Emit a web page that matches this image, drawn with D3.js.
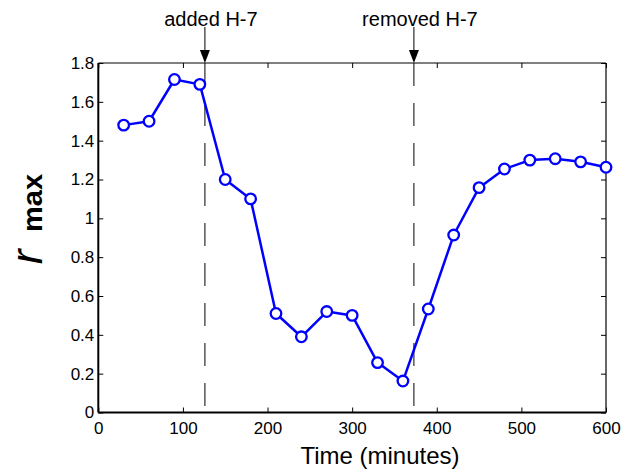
<!DOCTYPE html>
<html>
<head>
<meta charset="utf-8">
<script src="https://cdn.jsdelivr.net/npm/d3@7"></script>
<style>
  html, body { margin: 0; padding: 0; background: #fff; }
  svg { display: block; }
  text { font-family: "Liberation Sans", Arial, Helvetica, sans-serif; fill: #000; }
</style>
</head>
<body>
<svg id="chart" width="634" height="472"></svg>
<script>
// ---- data ----
const times = [30, 60, 90, 120, 150, 180, 210, 240, 270, 300, 330, 360, 390, 420, 450, 480, 510, 540, 570, 600];
const rmax  = [1.48, 1.50, 1.715, 1.69, 1.20, 1.10, 0.51, 0.39, 0.52, 0.50, 0.257, 0.162, 0.533, 0.914, 1.158, 1.254, 1.30, 1.307, 1.291, 1.263];
const eventTimes  = [126, 373];
const eventLabels = ["added H-7", "removed H-7"];
const xTicks = [0, 100, 200, 300, 400, 500, 600];
const yTicks = [0, 0.2, 0.4, 0.6, 0.8, 1, 1.2, 1.4, 1.6, 1.8];
const xLabel = "Time (minutes)";
const yLabelMain = "r";
const yLabelSub = "max";

// ---- layout ----
const M = { left: 98.3, right: 606, top: 63, bottom: 412.5 };

const svg = d3.select("#chart");
const x = d3.scaleLinear().domain([0, 600]).range([M.left, M.right]);
const y = d3.scaleLinear().domain([0, 1.8]).range([M.bottom, M.top]);

const fmt = d => (d === 0 ? "0" : String(+d.toFixed(1)));

const xAxis = svg.append("g").attr("transform", `translate(0,${M.bottom})`)
  .call(d3.axisBottom(x).tickValues(xTicks).tickSize(-5).tickPadding(9).tickFormat(fmt));
const yAxis = svg.append("g").attr("transform", `translate(${M.left},0)`)
  .call(d3.axisLeft(y).tickValues(yTicks).tickSize(-5).tickPadding(4).tickFormat(fmt));
const xAxisTop = svg.append("g").attr("transform", `translate(0,${M.top})`)
  .call(d3.axisTop(x).tickValues(xTicks).tickSize(-5).tickFormat(""));
const yAxisRight = svg.append("g").attr("transform", `translate(${M.right},0)`)
  .call(d3.axisRight(y).tickValues(yTicks).tickSize(-5).tickFormat(""));

[xAxis, yAxis, xAxisTop, yAxisRight].forEach(g => {
  g.select(".domain").remove();
  g.selectAll(".tick line").attr("stroke", "#000").attr("stroke-width", 1);
  g.selectAll(".tick text").attr("font-size", 17).attr("fill", "#000")
    .attr("font-family", "'Liberation Sans', Arial, sans-serif");
});

// frame
svg.append("line").attr("x1", M.left).attr("x2", M.right).attr("y1", M.top).attr("y2", M.top)
  .attr("stroke", "#000").attr("stroke-width", 1);
svg.append("line").attr("x1", M.right).attr("x2", M.right).attr("y1", M.top).attr("y2", M.bottom)
  .attr("stroke", "#000").attr("stroke-width", 1.2);
svg.append("line").attr("x1", M.left).attr("x2", M.right).attr("y1", M.bottom).attr("y2", M.bottom)
  .attr("stroke", "#000").attr("stroke-width", 2);
svg.append("line").attr("x1", M.left).attr("x2", M.left).attr("y1", M.top).attr("y2", M.bottom)
  .attr("stroke", "#000").attr("stroke-width", 2);

// event markers: dashed vertical lines + arrows with labels
const ev = eventTimes.map((t, i) => ({ t, label: eventLabels[i] }));
svg.selectAll("line.evdash").data(ev).enter().append("line")
  .attr("class", "evdash")
  .attr("x1", d => x(d.t)).attr("x2", d => x(d.t))
  .attr("y1", M.top).attr("y2", M.bottom - 3)
  .attr("stroke", "#000").attr("stroke-width", 1)
  .attr("stroke-dasharray", "23,17");
svg.selectAll("line.evarrow").data(ev).enter().append("line")
  .attr("class", "evarrow")
  .attr("x1", d => x(d.t)).attr("x2", d => x(d.t))
  .attr("y1", 27).attr("y2", M.top - 10)
  .attr("stroke", "#000").attr("stroke-width", 1);
svg.selectAll("path.evhead").data(ev).enter().append("path")
  .attr("class", "evhead")
  .attr("d", d => `M${x(d.t) - 5},${M.top - 13} L${x(d.t) + 5},${M.top - 13} L${x(d.t)},${M.top} Z`)
  .attr("fill", "#000");
svg.selectAll("text.evlabel").data(ev).enter().append("text")
  .attr("class", "evlabel")
  .attr("x", d => x(d.t) + 6).attr("y", 26)
  .attr("text-anchor", "middle").attr("font-size", 20)
  .text(d => d.label);

// data line and markers
const pts = times.map((t, i) => [t, rmax[i]]);
svg.append("path").datum(pts)
  .attr("fill", "none").attr("stroke", "#0000ff").attr("stroke-width", 2.5)
  .attr("stroke-linejoin", "round")
  .attr("d", d3.line().x(d => x(d[0])).y(d => y(d[1])));
svg.selectAll("circle.pt").data(pts).enter().append("circle")
  .attr("class", "pt")
  .attr("cx", d => x(d[0])).attr("cy", d => y(d[1])).attr("r", 5.3)
  .attr("fill", "#fff").attr("stroke", "#0000ff").attr("stroke-width", 2.3);

// axis titles
svg.append("text").attr("x", 380).attr("y", 464)
  .attr("text-anchor", "middle").attr("font-size", 24).text(xLabel);

svg.append("text")
  .attr("transform", `translate(42,257) rotate(-90)`)
  .attr("text-anchor", "middle")
  .attr("font-style", "italic").attr("font-size", 44)
  .text(yLabelMain);
svg.append("text")
  .attr("transform", `translate(42,203) rotate(-90)`)
  .attr("text-anchor", "middle")
  .attr("font-weight", "bold").attr("font-size", 27)
  .attr("textLength", 58).attr("lengthAdjust", "spacingAndGlyphs")
  .text(yLabelSub);
</script>
</body>
</html>
